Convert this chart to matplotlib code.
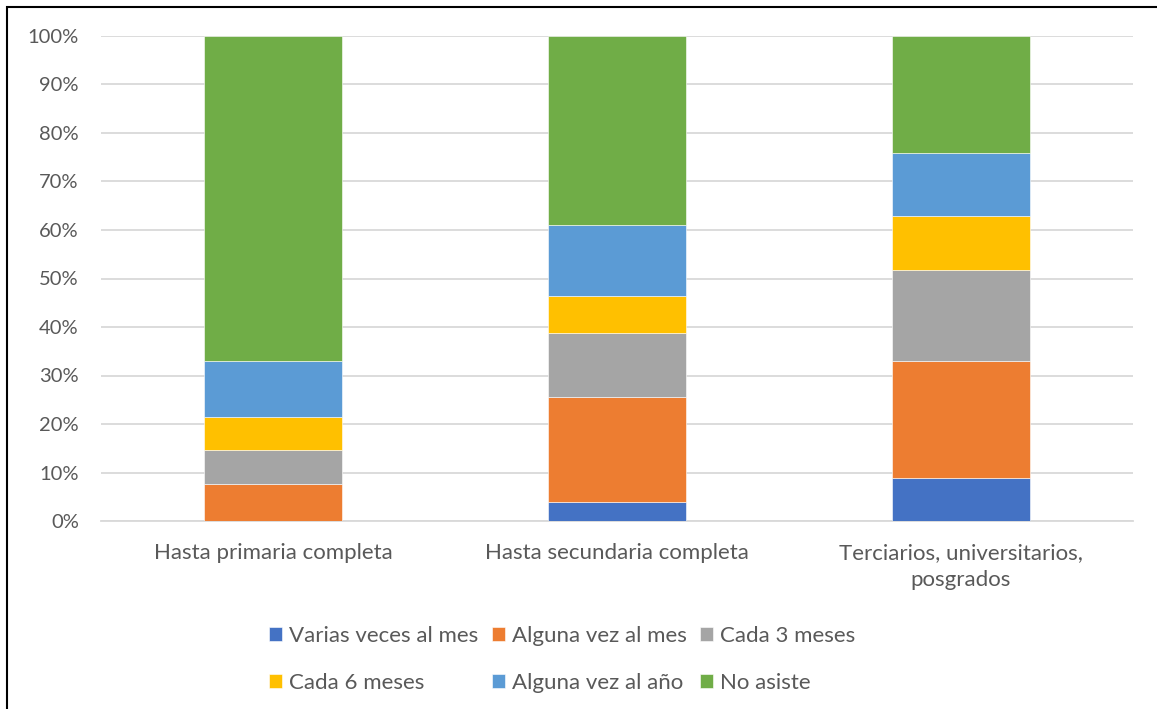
import numpy as np
import matplotlib
matplotlib.use('Agg')
import matplotlib.pyplot as plt
from matplotlib.patches import Rectangle

# data (percent of each education level)
categories = ['Hasta primaria completa', 'Hasta secundaria completa',
              'Terciarios, universitarios,\nposgrados']
series_names = ['Varias veces al mes', 'Alguna vez al mes', 'Cada 3 meses',
                'Cada 6 meses', 'Alguna vez al año', 'No asiste']
varias_veces_mes = [0.0, 4.0, 8.8]
alguna_vez_mes = [7.6, 21.6, 24.1]
cada_3_meses = [7.0, 13.2, 18.9]
cada_6_meses = [6.8, 7.5, 11.0]
alguna_vez_anio = [11.5, 14.7, 13.1]
no_asiste = [67.1, 39.0, 24.1]
series = [varias_veces_mes, alguna_vez_mes, cada_3_meses,
          cada_6_meses, alguna_vez_anio, no_asiste]
colors = ['#4472c4', '#ed7d31', '#a5a5a5', '#ffc000', '#5b9bd5', '#70ad47']

plt.rcParams['font.family'] = ['Lato', 'DejaVu Sans']
text_col = '#595959'

fig = plt.figure(figsize=(11.57, 7.09), dpi=100)
W, H = 1157, 709
ax = fig.add_axes([101 / W, 1 - 521 / H, (1133 - 101) / W, (521 - 36) / H])

x = np.arange(len(categories))
bottom = np.zeros(len(categories))
for name, vals, c in zip(series_names, series, colors):
    vals = np.array(vals)
    ax.bar(x, vals, 0.40, bottom=bottom, color=c, label=name,
           edgecolor='white', linewidth=0.4, zorder=3)
    bottom += vals

ax.set_xlim(-0.5, 2.5)
ax.set_ylim(0, 100)
ax.set_yticks(np.arange(0, 101, 10))
ax.set_yticklabels([f'{v}%' for v in range(0, 101, 10)])
ax.set_xticks(x)
ax.set_xticklabels(categories, linespacing=1.45)
ax.yaxis.grid(True, color='#d9d9d9', linewidth=1.3, zorder=0)
for s in ['top', 'right', 'left']:
    ax.spines[s].set_visible(False)
ax.spines['bottom'].set_color('#d9d9d9')
ax.spines['bottom'].set_linewidth(1.3)
ax.tick_params(axis='both', length=0, colors=text_col)
ax.tick_params(axis='y', pad=16, labelsize=14.5)
ax.tick_params(axis='x', pad=16, labelsize=16)

# legend filled row by row like the original
handles, labels = ax.get_legend_handles_labels()
order = [0, 3, 1, 4, 2, 5]
leg = fig.legend([handles[i] for i in order], [labels[i] for i in order],
                 loc='upper left', bbox_to_anchor=(249 / W, 1 - 606 / H), ncol=3,
                 frameon=False, fontsize=16, handlelength=0.6, handleheight=0.6,
                 handletextpad=0.3, columnspacing=0.6, labelspacing=1.2)
for t in leg.get_texts():
    t.set_color(text_col)

# chart border (cropped on right and bottom)
fig.patches.append(Rectangle((7 / W, -0.1), 1.2, 1 - 7 / H + 0.1,
                             transform=fig.transFigure, fill=False,
                             edgecolor='black', linewidth=1.5))

fig.savefig('out.png', dpi=100)
